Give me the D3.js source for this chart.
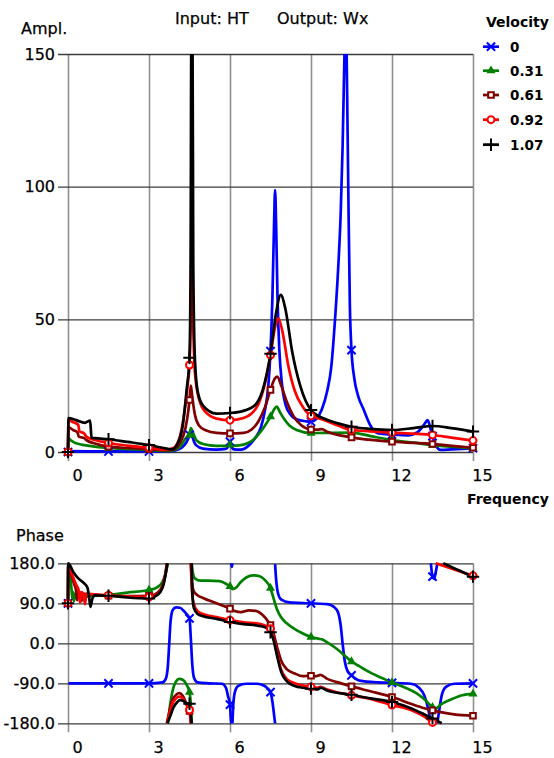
<!DOCTYPE html>
<html>
<head>
<meta charset="utf-8">
<script src="https://cdn.jsdelivr.net/npm/d3@7"></script>
<style>
  body { margin: 0; background: #fff; }
  svg text { font-family: "DejaVu Sans", sans-serif; fill: #000; }
</style>
</head>
<body>
<svg id="chart" width="554" height="758"></svg>
<script>
// ---- series definitions ----
const velocities = ["0", "0.31", "0.61", "0.92", "1.07"];
const colors = ["#0000ff", "#008000", "#800000", "#ff0000", "#000000"];
const freqTicks = [0, 3, 6, 9, 12, 15];
const ampTicks = [0, 50, 100, 150];
const phaseTicks = [-180, -90, 0, 90, 180];
const markerFreqs = [0, 1.5, 3, 4.5, 6, 7.5, 9, 10.5, 12, 13.5, 15];

// amplitude [frequency, amplitude]
const ampV0 = [[0,0],[0.05,0.3],[1.5,0.2],[3,0.2],[3.8,0.3],[4.1,1],[4.3,2.5],[4.45,5],[4.5,6.5],[4.56,8.5],[4.62,5.5],[4.75,2.5],[5.0,1.3],[5.5,0.9],[5.85,1.2],[5.95,2.5],[6,3.9],[6.05,2.2],[6.15,1.0],[6.4,0.9],[6.7,2.5],[6.95,5.5],[7.15,9.5],[7.3,16],[7.42,25],[7.5,38],[7.57,58],[7.63,85],[7.67,98.7],[7.71,85],[7.76,58],[7.83,38],[7.92,26],[8.05,18],[8.25,14],[8.5,12.2],[8.8,11.6],[9,11.4],[9.2,12.5],[9.4,16],[9.6,23],[9.75,32],[9.89,50],[10.0,68],[10.1,90],[10.17,115],[10.24,150],[10.28,175],[10.32,150],[10.38,100],[10.44,55],[10.5,38.4],[10.6,28],[10.75,21],[10.95,16],[11.2,10],[11.5,7],[12,6.6],[12.6,6.3],[12.95,7.5],[13.2,10.5],[13.32,12],[13.42,9],[13.5,6],[13.62,2.5],[13.8,0.8],[14.2,1.0],[15,1.4]];
const ampV031 = [[0,0],[0.02,5.2],[0.1,4.4],[0.25,3.5],[0.5,2.8],[0.8,2.3],[1.5,1.5],[2.2,1.1],[3,0.8],[3.6,0.4],[3.9,0.6],[4.15,2],[4.35,5],[4.5,6.4],[4.55,9],[4.62,7.5],[4.75,4.5],[5,3],[5.5,2.3],[5.85,2.3],[6,2.7],[6.2,2.4],[6.5,2.8],[6.75,3.8],[7.0,6],[7.3,10],[7.5,13.3],[7.63,16],[7.73,17.1],[7.85,15],[8.0,12.5],[8.2,10],[8.5,8.2],[9,7.1],[9.5,7.2],[10.5,7.3],[11.2,6],[12,4.5],[12.8,3.5],[13.5,2.6],[14.2,2],[15,1.4]];
const ampV061 = [[0,0],[0.02,9.3],[0.2,8.2],[0.35,7.4],[0.4,5.8],[0.6,5.2],[0.68,4.5],[1.0,3.2],[1.5,2.0],[2.2,1.5],[3,1.1],[3.6,0.6],[3.9,0.9],[4.15,3.5],[4.35,9],[4.45,15],[4.5,19.6],[4.55,25],[4.6,21],[4.7,14],[4.85,10],[5.1,8.2],[5.5,7.2],[6,7.0],[6.5,7.2],[6.8,8.5],[7.05,11.5],[7.3,17],[7.5,23.4],[7.65,27.5],[7.75,28.4],[7.9,25],[8.1,19],[8.35,13.5],[8.65,10],[9,8.5],[9.25,8.4],[9.4,8.6],[9.6,7.6],[10.5,5.5],[12,3.9],[13.5,3.0],[15,1.6]];
const ampV092 = [[0,0],[0.02,12],[0.2,11.2],[0.38,10.3],[0.42,7.8],[0.6,7.0],[0.68,5.8],[1.0,4.5],[1.5,3.4],[2.2,2.4],[3,1.6],[3.6,0.9],[3.9,1.5],[4.15,6],[4.35,18],[4.45,27],[4.5,32.8],[4.55,50],[4.59,68],[4.63,50],[4.7,30],[4.85,20],[5.1,15],[5.5,12.6],[6,12],[6.5,12.8],[6.8,14.5],[7.05,18],[7.3,26],[7.5,36.5],[7.65,46],[7.79,50.4],[7.95,45],[8.15,33],[8.4,23],[8.7,17],[9,13.6],[9.3,12.6],[9.5,12],[10,10],[10.5,8.3],[11.2,7.8],[12,7.3],[12.8,6.9],[13.5,6.4],[14.2,5.4],[15,4.3]];
const ampV107 = [[0,0],[0.02,12.8],[0.3,12],[0.63,11],[0.75,11.6],[0.82,11.8],[0.87,5.4],[1.0,5.2],[1.5,4.8],[2.2,3.8],[3,2.6],[3.5,1.6],[3.84,1],[4.05,3],[4.25,10],[4.4,24],[4.5,35.5],[4.54,70],[4.57,160],[4.61,160],[4.64,70],[4.7,35],[4.8,23],[5,17.5],[5.5,14.5],[6,14.7],[6.5,15.5],[6.93,17.7],[7.2,23],[7.5,37],[7.7,52],[7.88,59.2],[8.05,54],[8.3,38],[8.6,25],[9,15.8],[9.5,12.5],[10,10.8],[10.5,9.5],[11.2,8.7],[12,8.3],[12.8,9],[13.5,9.8],[14.2,9],[15,7.7]];

// phase [frequency, degrees]
const phV0 = [[0,90],[0.02,-90],[1.5,-90],[3,-90],[3.5,-88],[3.62,-80],[3.7,-50],[3.75,0],[3.8,50],[3.88,75],[4.0,81],[4.15,80],[4.3,72],[4.4,65],[4.5,56],[4.55,10],[4.6,-45],[4.67,-78],[4.8,-88],[5.2,-90],[5.7,-91],[5.85,-100],[5.93,-120],[6,-138],[6.03,-170],[6.05,-180],[6.05,180],[6.07,172],[6.09,180],[6.09,-180],[6.12,-140],[6.18,-110],[6.3,-96],[6.6,-91],[7.0,-91],[7.25,-95],[7.4,-102],[7.5,-110],[7.58,-135],[7.64,-165],[7.67,-180],[7.67,178],[7.7,150],[7.78,112],[7.9,98],[8.2,92],[9,90],[9.6,88],[9.85,82],[10.0,70],[10.1,40],[10.17,0],[10.25,-40],[10.35,-62],[10.5,-72],[10.8,-84],[11.5,-88],[12,-89],[12.7,-91],[13.0,-100],[13.2,-118],[13.35,-150],[13.44,-180],[13.44,180],[13.5,150],[13.56,145],[13.62,160],[13.68,180],[13.68,-180],[13.75,-150],[13.85,-115],[14.0,-98],[14.3,-91],[15,-90]];
const phV031 = [[0,90],[0.01,178],[0.06,160],[0.12,130],[0.16,100],[0.19,115],[0.22,95],[0.27,112],[0.33,100],[0.4,108],[0.6,105],[1.0,107],[1.5,109],[2.2,114],[3,120],[3.3,126],[3.5,138],[3.62,158],[3.7,180],[3.7,-180],[3.78,-140],[3.88,-105],[4.0,-86],[4.12,-80],[4.25,-82],[4.38,-92],[4.5,-110],[4.56,-150],[4.58,-180],[4.58,180],[4.62,160],[4.7,146],[4.9,141],[5.2,141],[5.6,140],[5.9,132],[6,128],[6.1,122],[6.2,124],[6.4,138],[6.6,148],[6.85,153],[7.1,151],[7.3,142],[7.5,124],[7.62,100],[7.75,75],[7.9,58],[8.1,45],[8.4,32],[8.7,22],[9,14],[9.3,10],[9.4,9],[9.6,2],[9.9,-10],[10.2,-25],[10.5,-41],[10.8,-52],[11.2,-66],[11.7,-80],[12,-88],[12.5,-100],[12.9,-112],[13.2,-126],[13.5,-144],[13.62,-147],[13.8,-138],[14.2,-126],[14.6,-117],[15,-114]];
const phV061 = [[0,90],[0.01,178],[0.1,160],[0.22,135],[0.3,118],[0.34,97],[0.38,118],[0.45,112],[0.5,95],[0.55,112],[0.8,110],[1.5,107],[2.2,106],[3,107],[3.3,113],[3.5,130],[3.6,155],[3.66,180],[3.66,-180],[3.75,-155],[3.85,-130],[4.0,-116],[4.12,-112],[4.25,-118],[4.38,-135],[4.5,-152],[4.55,-180],[4.55,180],[4.58,150],[4.65,118],[4.8,108],[5.0,102],[5.5,90],[6,78],[6.2,72],[6.4,70],[6.7,74],[6.95,73],[7.2,64],[7.4,50],[7.5,41],[7.6,25],[7.75,-10],[7.9,-40],[8.1,-58],[8.4,-68],[8.7,-74],[9,-73],[9.2,-74],[9.35,-71],[9.6,-80],[10.0,-88],[10.5,-97],[11.2,-108],[12,-121],[12.7,-136],[13.2,-146],[13.5,-151],[13.8,-155],[14.3,-160],[15,-163]];
const phV092 = [[0,90],[0.01,178],[0.15,155],[0.3,132],[0.4,118],[0.44,92],[0.5,115],[0.58,108],[0.63,88],[0.68,112],[1.0,110],[1.5,108],[2.2,105],[3,104],[3.3,110],[3.5,128],[3.6,152],[3.67,180],[3.67,-180],[3.75,-160],[3.85,-138],[4.0,-124],[4.12,-120],[4.25,-124],[4.38,-138],[4.5,-150],[4.55,-180],[4.55,180],[4.58,130],[4.65,90],[4.8,72],[5.0,66],[5.5,59],[6,52],[6.5,47],[7.0,45],[7.3,40],[7.5,33],[7.6,15],[7.75,-25],[7.9,-60],[8.1,-80],[8.4,-90],[8.7,-95],[9,-98],[9.25,-100],[9.35,-98],[9.6,-104],[10.5,-117],[11.2,-125],[12,-139],[12.7,-150],[13.2,-165],[13.5,-178],[13.58,-180],[13.62,180],[14.3,166],[15,152]];
const phV107 = [[0,90],[0.01,180],[0.2,160],[0.4,145],[0.6,135],[0.72,125],[0.78,105],[0.83,82],[0.9,100],[1.0,108],[1.5,107],[2.2,103],[3,101],[3.3,108],[3.5,125],[3.6,150],[3.68,180],[3.68,-180],[3.78,-165],[3.9,-145],[4.05,-132],[4.15,-128],[4.28,-130],[4.4,-135],[4.5,-136],[4.55,-160],[4.58,-180],[4.58,180],[4.6,120],[4.66,80],[4.8,66],[5.0,61],[5.5,55],[6,48],[6.5,43],[7.0,40],[7.3,36],[7.5,25],[7.6,10],[7.75,-30],[7.9,-65],[8.1,-85],[8.4,-96],[8.7,-100],[9,-102],[9.25,-104],[9.35,-100],[9.6,-106],[10.5,-116],[11.2,-124],[12,-132],[12.7,-146],[13.2,-160],[13.5,-169],[13.84,-180],[13.9,180],[14.4,166],[15,150]];

const ampSeries = [ampV0, ampV031, ampV061, ampV092, ampV107];
const phaseSeries = [phV0, phV031, phV061, phV092, phV107];

// ---- layout ----
const svg = d3.select("#chart");
const left = 68, right = 473;
const ampTop = 54, ampBottom = 452;
const phTop = 563.3, phBottom = 723.3;
const tickOut = 9;
const FONT = '"DejaVu Sans", sans-serif';

const x = d3.scaleLinear().domain([0, 15]).range([left, right]);
const yAmp = d3.scaleLinear().domain([0, 150]).range([ampBottom, ampTop]);
const yPh = d3.scaleLinear().domain([-180, 180]).range([phBottom, phTop]);

// marker shapes per velocity
const markerShapes = [
  { type: d3.symbolTimes, size: 46, fill: "none", stroke: true },
  { type: d3.symbolTriangle, size: 36, fill: "color", stroke: false },
  { type: d3.symbolSquare2, size: 40, fill: "#fff", stroke: true },
  { type: d3.symbolCircle, size: 38, fill: "#fff", stroke: true },
  { type: d3.symbolPlus, size: 52, fill: "none", stroke: true }
];

function drawMarker(g, cx, cy, i) {
  const m = markerShapes[i];
  g.append("path")
    .attr("transform", `translate(${cx},${cy})`)
    .attr("d", d3.symbol().type(m.type).size(m.size)())
    .attr("fill", m.fill === "color" ? colors[i] : m.fill)
    .attr("stroke", m.stroke ? colors[i] : "none")
    .attr("stroke-width", 2);
}

function drawGrid(yScale, yTicks, top, bottom, fmt) {
  // vertical grid lines with frequency labels underneath
  const xa = svg.append("g")
    .attr("transform", `translate(0,${bottom + tickOut})`)
    .call(d3.axisBottom(x).tickValues(freqTicks)
      .tickSizeInner(-(bottom - top + tickOut)).tickSizeOuter(0).tickPadding(9)
      .tickFormat(d3.format("d")));
  xa.select(".domain").remove();
  xa.selectAll("line").attr("stroke", "#8f8f8f").attr("stroke-width", 1.6);
  xa.selectAll("text").attr("x", 9).attr("font-size", 16)
    .style("font-family", FONT).attr("stroke", "#000").attr("stroke-width", 0.25);

  // horizontal grid lines with value labels on the left
  const ya = svg.append("g")
    .attr("transform", `translate(${left - 10},0)`)
    .call(d3.axisLeft(yScale).tickValues(yTicks)
      .tickSizeInner(-(right - left + 10)).tickSizeOuter(0).tickPadding(3)
      .tickFormat(fmt));
  ya.select(".domain").remove();
  ya.selectAll("line").attr("stroke", "#3c3c3c").attr("stroke-width", 1.3);
  ya.selectAll("text").attr("font-size", 16)
    .style("font-family", FONT).attr("stroke", "#000").attr("stroke-width", 0.25);
}

drawGrid(yAmp, ampTicks, ampTop, ampBottom, d3.format("d"));
drawGrid(yPh, phaseTicks, phTop, phBottom, d => d.toFixed(1));

// clip so peaks stop at the top of the amplitude plot
svg.append("clipPath").attr("id", "ampClip")
  .append("rect").attr("x", 0).attr("y", ampTop).attr("width", 554).attr("height", 430);

const ampLine = d3.line()
  .x(d => x(d[0])).y(d => yAmp(d[1]))
  .curve(d3.curveMonotoneX);
const phLine = d3.line()
  .x(d => x(d[0])).y(d => yPh(d[1]))
  .curve(d3.curveMonotoneX);

// split phase curves where they wrap between +180 and -180
function splitWraps(data) {
  const segs = [];
  let cur = [data[0]];
  for (let k = 1; k < data.length; k++) {
    if (Math.abs(data[k][1] - data[k - 1][1]) >= 180) {
      segs.push(cur);
      cur = [];
    }
    cur.push(data[k]);
  }
  segs.push(cur);
  return segs.filter(s => s.length > 1);
}

const ampG = svg.append("g").attr("clip-path", "url(#ampClip)");
const phG = svg.append("g");
const markG = svg.append("g");

ampSeries.forEach((data, i) => {
  ampG.append("path").datum(data)
    .attr("d", ampLine)
    .attr("fill", "none").attr("stroke", colors[i])
    .attr("stroke-width", 2.7).attr("stroke-linejoin", "round");
});
phaseSeries.forEach((data, i) => {
  splitWraps(data).forEach(seg => {
    phG.append("path").datum(seg)
      .attr("d", phLine)
      .attr("fill", "none").attr("stroke", colors[i])
      .attr("stroke-width", 2.7).attr("stroke-linejoin", "round");
  });
});

// markers every 1.5 Hz
ampSeries.forEach((data, i) => {
  markerFreqs.forEach(f => {
    const p = data.find(d => d[0] === f);
    if (p) drawMarker(markG, x(p[0]), yAmp(Math.min(p[1], 150)), i);
  });
});
phaseSeries.forEach((data, i) => {
  markerFreqs.forEach(f => {
    const p = data.find(d => d[0] === f);
    if (p) drawMarker(markG, x(p[0]), yPh(p[1]), i);
  });
});

// titles
const txt = (s, xx, yy, size, weight) => {
  const t = svg.append("text")
    .attr("x", xx).attr("y", yy).attr("font-size", size)
    .attr("font-weight", weight || "normal").text(s);
  if (!weight) t.attr("stroke", "#000").attr("stroke-width", 0.25);
  return t;
};
txt("Input: HT", 175, 24, 16);
txt("Output: Wx", 277, 24, 16);
txt("Ampl.", 21, 34, 16);
txt("Frequency", 467, 504, 14, "bold");
txt("Phase", 16, 541, 16);

// legend
txt("Velocity", 486, 27, 14, "bold");
const legY = [46.7, 70.7, 95, 119.7, 144.7];
velocities.forEach((v, i) => {
  const y = legY[i];
  svg.append("line").attr("x1", 483).attr("x2", 499).attr("y1", y).attr("y2", y)
    .attr("stroke", colors[i]).attr("stroke-width", 2.7);
  drawMarker(svg, 491, y, i);
  txt(v, 510, y + 5, 13.5, "bold");
});
</script>
</body>
</html>
